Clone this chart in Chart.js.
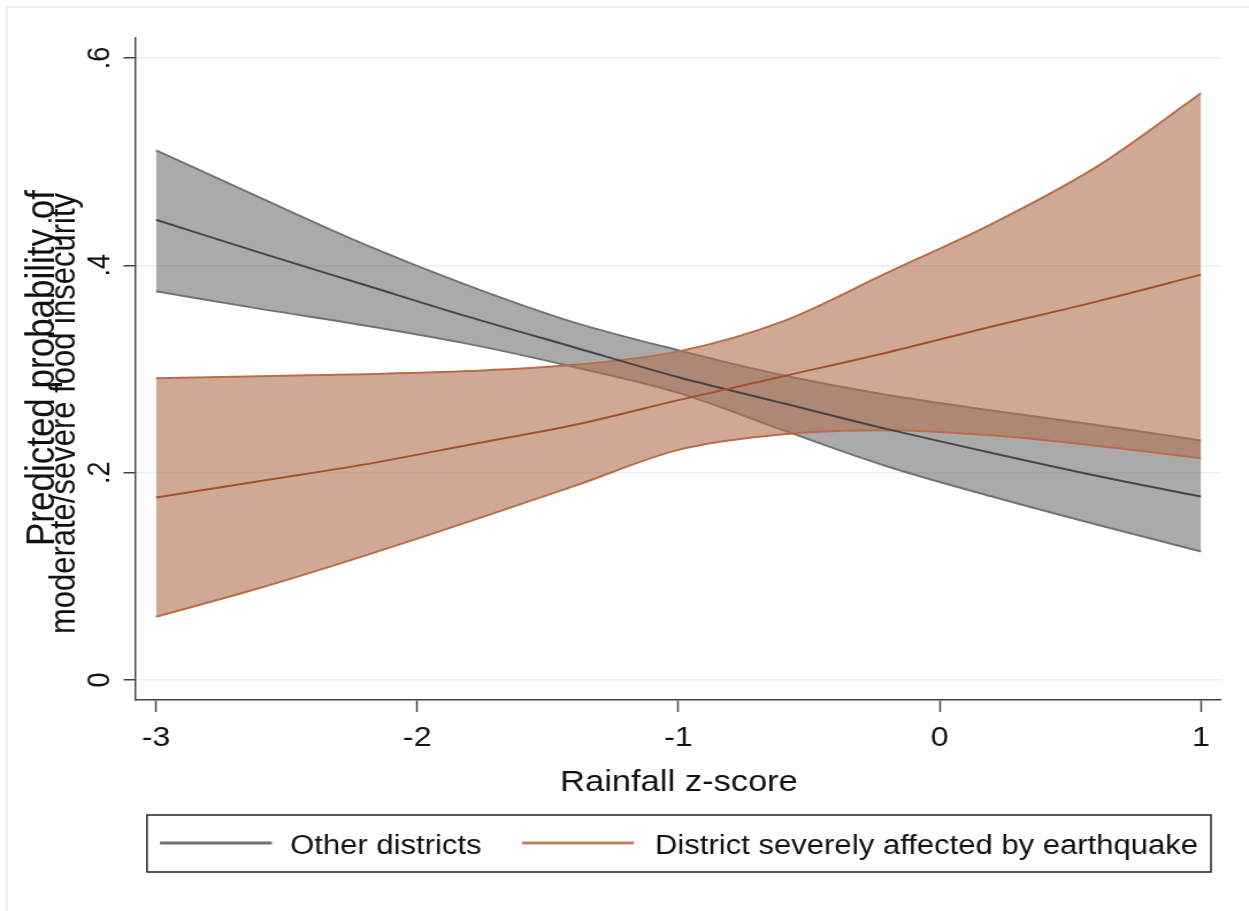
<!DOCTYPE html>
<html>
<head>
<meta charset="utf-8">
<script src="https://cdn.jsdelivr.net/npm/chart.js@4"></script>
<style>
  body{margin:0;background:#fff;}
  #wrap{width:1249px;height:911px;overflow:hidden;}
  /* the reference is stretched sideways, so the canvas is too */
  #chartCanvas{transform:scaleX(1.15);transform-origin:0 0;display:block;}
</style>
</head>
<body>
<div id="wrap"><canvas id="chartCanvas" width="1086" height="911"></canvas></div>
<script>
// data
const xValues=[-3,-2.6,-2.2,-1.8,-1.4,-1,-0.6,-0.2,0.2,0.6,1];
const otherMean=[0.444,0.412,0.381,0.350,0.321,0.292,0.267,0.242,0.219,0.197,0.177];
const otherUpper=[0.511,0.465,0.420,0.380,0.345,0.318,0.294,0.275,0.260,0.246,0.231];
const otherLower=[0.375,0.358,0.342,0.324,0.302,0.277,0.241,0.206,0.177,0.150,0.124];
const quakeMean=[0.176,0.192,0.208,0.227,0.246,0.270,0.293,0.316,0.341,0.365,0.391];
const quakeUpper=[0.291,0.293,0.295,0.298,0.304,0.317,0.346,0.393,0.440,0.495,0.566];
const quakeLower=[0.061,0.089,0.120,0.153,0.187,0.222,0.237,0.241,0.236,0.226,0.214];
const xTicks=[-3,-2,-1,0,1];
const yTicks=[0,0.2,0.4,0.6];
const seriesNames=['Other districts','District severely affected by earthquake'];
const xTitle='Rainfall z-score';
const yTitle=['Predicted probability of','moderate/severe food insecurity'];

const font="'Liberation Sans', Arial, sans-serif";

function pts(ys){
    return xValues.map((x,i)=>({x:x,y:ys[i]}));
}

//titles, legend and the outer frame
const decor={
    id:'decor',
    afterDraw(chart){
        const ctx=chart.ctx;
        ctx.save();
        //outer frame (only top and left show)
        ctx.strokeStyle='#e3ecee';
        ctx.lineWidth=1.5;
        ctx.beginPath();
        ctx.moveTo(6,911);ctx.lineTo(6,7);ctx.lineTo(1086,7);
        ctx.stroke();

        ctx.fillStyle='#111';
        //x title
        ctx.font='30px '+font;
        ctx.textAlign='center';
        ctx.textBaseline='alphabetic';
        ctx.fillText(xTitle,590.4,791);

        //y title, two lines
        ctx.textAlign='right';
        ctx.save();
        ctx.translate(46.5,190);
        ctx.rotate(-Math.PI/2);
        ctx.font='35px '+font;
        ctx.fillText(yTitle[0],0,0);
        ctx.restore();
        ctx.save();
        ctx.translate(65.2,193);
        ctx.rotate(-Math.PI/2);
        ctx.font='31px '+font;
        ctx.fillText(yTitle[1],0,0);
        ctx.restore();

        //legend box
        ctx.strokeStyle='#222';
        ctx.lineWidth=1.5;
        ctx.strokeRect(127.8,815,925.2,57);
        ctx.lineWidth=3;
        ctx.strokeStyle='#707070';
        ctx.beginPath();ctx.moveTo(139.1,843);ctx.lineTo(236.5,843);ctx.stroke();
        ctx.strokeStyle='#c0806a';
        ctx.beginPath();ctx.moveTo(453.9,843);ctx.lineTo(551.3,843);ctx.stroke();
        ctx.font='27px '+font;
        ctx.textAlign='left';
        ctx.fillText(seriesNames[0],252.2,854);
        ctx.fillText(seriesNames[1],569.6,854);
        ctx.restore();
    }
};

const lineBase={pointRadius:0,borderWidth:2,cubicInterpolationMode:'monotone'};

const data={
    datasets:[
        Object.assign({label:'other upper',data:pts(otherUpper),borderColor:'#737373',backgroundColor:'rgba(100,100,100,0.55)',fill:1,order:5},lineBase),
        Object.assign({label:'other lower',data:pts(otherLower),borderColor:'#737373',fill:false,order:4},lineBase),
        Object.assign({label:'quake upper',data:pts(quakeUpper),borderColor:'#b86e4b',backgroundColor:'rgba(178,114,84,0.61)',fill:3,order:3},lineBase),
        Object.assign({label:'quake lower',data:pts(quakeLower),borderColor:'#b86e4b',fill:false,order:2},lineBase),
        Object.assign({label:seriesNames[0],data:pts(otherMean),borderColor:'#454545',fill:false,order:1,borderWidth:2.3},lineBase),
        Object.assign({label:seriesNames[1],data:pts(quakeMean),borderColor:'#a6502a',fill:false,order:0,borderWidth:2.3},lineBase)
    ]
};

const config={
    type:'line',
    data:data,
    options:{
        responsive:false,
        animation:false,
        devicePixelRatio:1,
        layout:{padding:{top:38,right:24.3,bottom:0,left:0}},
        plugins:{
            legend:{display:false},
            tooltip:{enabled:false},
            filler:{propagate:false}
        },
        scales:{
            x:{
                type:'linear',
                min:-3.0804,
                max:1.0766,
                afterBuildTicks:s=>{s.ticks=xTicks.map(v=>({value:v}));},
                afterFit:s=>{s.height=211;},
                grid:{display:true,drawOnChartArea:false,drawTicks:true,tickLength:12,tickColor:'#444',tickWidth:1.5},
                border:{display:true,color:'#444',width:1.5},
                ticks:{
                    color:'#111',
                    font:{family:font,size:28},
                    padding:9,
                    maxRotation:0,
                    callback:v=>String(v)
                }
            },
            y:{
                type:'linear',
                min:-0.0193,
                max:0.6193,
                afterBuildTicks:s=>{s.ticks=yTicks.map(v=>({value:v}));},
                afterFit:s=>{s.width=117.4;},
                grid:{display:true,drawOnChartArea:true,color:'#e6eff1',lineWidth:1.5,drawTicks:true,tickLength:10,tickColor:'#444',tickWidth:1.5},
                border:{display:true,color:'#444',width:1.5},
                ticks:{
                    color:'#111',
                    font:{family:font,size:27},
                    padding:9,
                    minRotation:90,
                    maxRotation:90,
                    crossAlign:'center',
                    callback:v=>v===0?'0':String(Math.round(v*10)/10).replace('0.','.')
                }
            }
        }
    },
    plugins:[decor]
};

var myChart=new Chart(document.getElementById('chartCanvas'),config);
</script>
</body>
</html>
